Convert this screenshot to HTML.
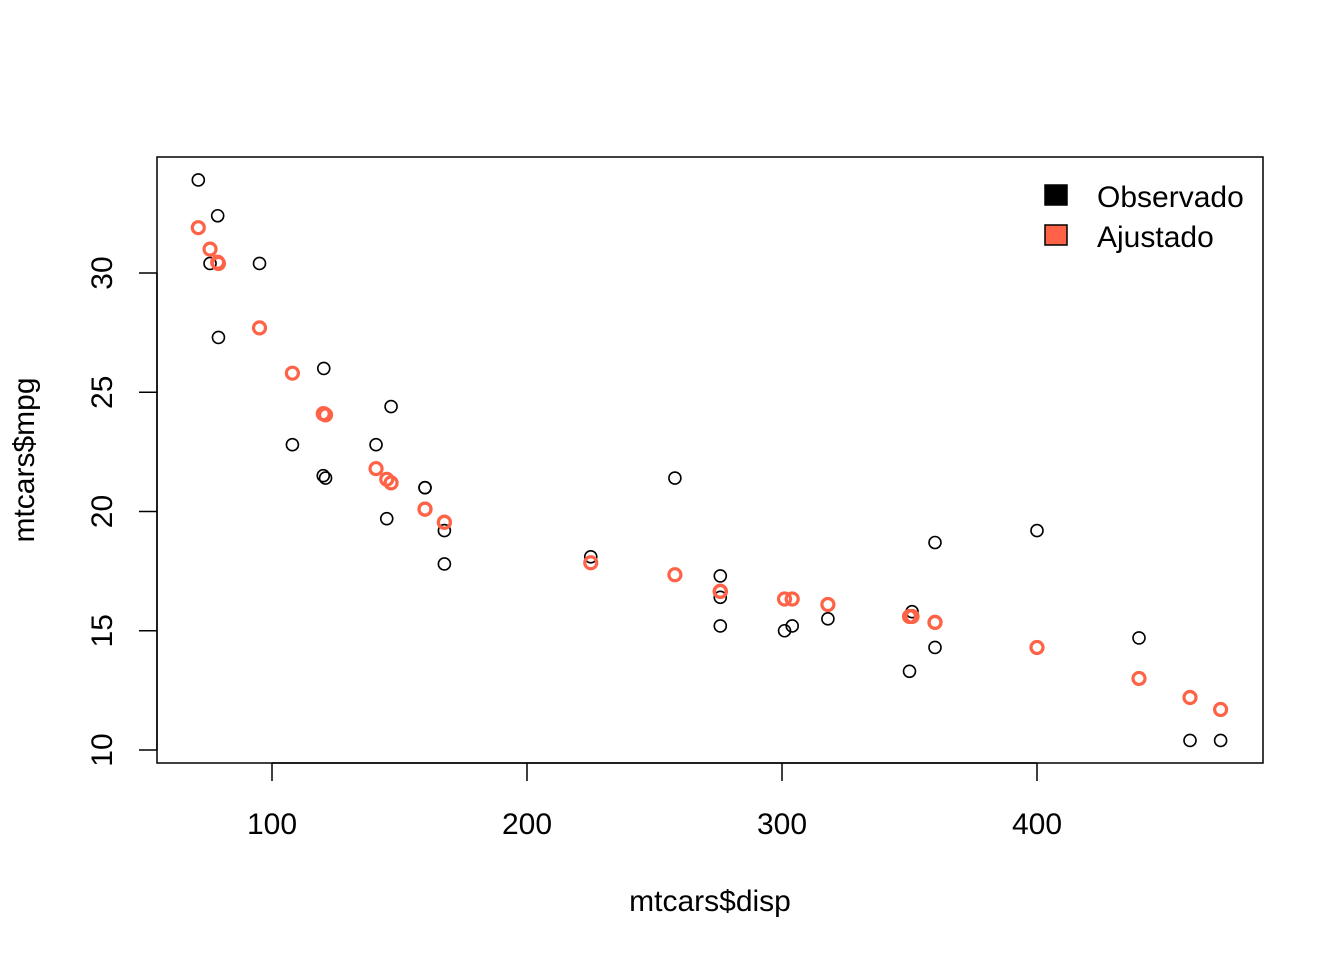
<!DOCTYPE html>
<html><head><meta charset="utf-8"><style>
html,body{margin:0;padding:0;background:#fff;}
svg text{font-family:"Liberation Sans",Arial,sans-serif;fill:#000;}
</style></head><body>
<svg id="chart" width="1344" height="960" viewBox="0 0 1344 960" xmlns="http://www.w3.org/2000/svg">
<rect x="0" y="0" width="1344" height="960" fill="#fff"/>
<rect x="157" y="157" width="1106" height="606" fill="none" stroke="#000" stroke-width="1.5"/>
<g id="axes"></g>
<g id="pts"></g>
<text x="710" y="911" font-size="30" text-anchor="middle">mtcars$disp</text>
<text transform="translate(34,460) rotate(-90)" font-size="30" text-anchor="middle">mtcars$mpg</text>
<g>
<rect x="1045" y="185" width="22" height="20" fill="#000" stroke="#000" stroke-width="1.5"/>
<text x="1097" y="207" font-size="30">Observado</text>
<rect x="1045" y="225" width="22" height="20" fill="#FF6347" stroke="#000" stroke-width="1.5"/>
<text x="1097" y="247" font-size="30">Ajustado</text>
</g>
</svg>
<script>
const disp = [160,160,108,258,360,225,360,146.7,140.8,167.6,167.6,275.8,275.8,275.8,472,460,440,78.7,75.7,71.1,120.1,318,304,350,400,79,120.3,95.1,351,145,301,121];
const mpg = [21.0,21.0,22.8,21.4,18.7,18.1,14.3,24.4,22.8,19.2,17.8,16.4,17.3,15.2,10.4,10.4,14.7,32.4,30.4,33.9,21.5,15.5,15.2,13.3,19.2,27.3,26.0,30.4,15.8,19.7,15.0,21.4];
const fitted = [20.1,20.1,25.8,17.35,15.35,17.85,15.35,21.2,21.8,19.55,19.55,16.65,16.65,16.65,11.7,12.2,13.0,30.45,31.0,31.9,24.1,16.1,16.33,15.6,14.3,30.4,24.1,27.7,15.6,21.35,16.33,24.05];
const xTicks = [100,200,300,400];
const yTicks = [10,15,20,25,30];
const NS="http://www.w3.org/2000/svg";
const X = d => 272 + (d-100)*2.55;
const Y = v => 750 - (v-10)*23.85;
const axes=document.getElementById('axes'), pts=document.getElementById('pts');
function mk(tag,attrs,parent){const e=document.createElementNS(NS,tag);for(const k in attrs)e.setAttribute(k,attrs[k]);parent.appendChild(e);return e;}
const xl=mk('line',{x1:X(100),x2:X(400),y1:763,y2:763,stroke:'#000','stroke-width':1.5},axes);


const yl=mk('line',{x1:157,x2:157,y1:Y(10),y2:Y(30),stroke:'#000','stroke-width':1.5},axes);


xTicks.forEach(t=>{
  const l=mk('line',{x1:X(t),x2:X(t),y1:763,y2:781,stroke:'#000','stroke-width':1.5},axes);
  
  
  const tx=mk('text',{x:X(t),y:834,'font-size':30,'text-anchor':'middle'},axes);
  tx.textContent=t;
  
  
});
yTicks.forEach(t=>{
  const l=mk('line',{x1:139,x2:157,y1:Y(t),y2:Y(t),stroke:'#000','stroke-width':1.5},axes);
  
  
  const tx=mk('text',{transform:`translate(112,${Y(t)}) rotate(-90)`,'font-size':30,'text-anchor':'middle'},axes);
  tx.textContent=t;
  
  
});
disp.forEach((d,i)=>{
  const c=mk('circle',{cx:X(d),cy:Y(mpg[i]),r:6,fill:'none',stroke:'#000','stroke-width':1.6},pts);
  
  
});
disp.forEach((d,i)=>{
  const c=mk('circle',{cx:X(d),cy:Y(fitted[i]),r:6,fill:'none',stroke:'#FF6347','stroke-width':3.2},pts);
  
  
});
</script>
</body></html>
